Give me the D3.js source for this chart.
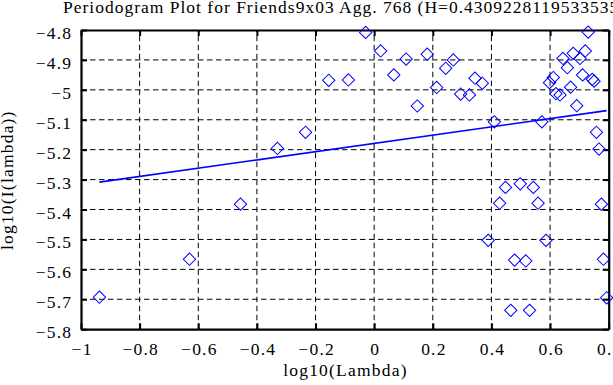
<!DOCTYPE html>
<meta http-equiv="content-type" content="text/html; charset=utf-8" />
<html lang="en">
<head>
<title>Periodogram Plot</title>
<script src="https://d3js.org/d3.v7.min.js"></script>
<style>
body { margin: 0; background: #fff; }
svg { display: block; }
text { font-family: "Liberation Serif", "Times New Roman", serif; font-size: 17.5px; letter-spacing: 1.2px; fill: #000; }
text.title { letter-spacing: 1.0px; }
</style>
</head>
<body>
<div id="plot"></div>
</body>
<script>
var width = 613, height = 385;
var margin = {left: 81, right: 4.3, top: 30, bottom: 55.8};

var title = "Periodogram Plot for Friends9x03 Agg. 768 (H=0.4309228119533535)";
var xLabel = "log10(Lambda)";
var yLabel = "log10(I(lambda))";

// log10 of frequency
var logLambda = [-0.937, -0.630, -0.456, -0.330, -0.234, -0.155, -0.088, -0.029, 0.022, 0.067,
  0.109, 0.147, 0.181, 0.213, 0.244, 0.270, 0.295, 0.325, 0.344, 0.369,
  0.389, 0.410, 0.428, 0.448, 0.466, 0.479, 0.498, 0.517, 0.530, 0.543,
  0.559, 0.572, 0.586, 0.598, 0.611, 0.620, 0.634, 0.644, 0.659, 0.670,
  0.679, 0.691, 0.702, 0.711, 0.720, 0.730, 0.744, 0.750, 0.758, 0.767,
  0.775, 0.782, 0.793];
// log10 of periodogram value
var logI = [-5.693, -5.566, -5.382, -5.196, -5.142, -4.968, -4.967, -4.808, -4.870, -4.950,
  -4.897, -5.054, -4.881, -4.992, -4.928, -4.900, -5.014, -5.017, -4.961, -4.978,
  -5.503, -5.107, -5.379, -5.326, -5.737, -5.569, -5.314, -5.572, -5.737, -5.326,
  -5.379, -5.107, -5.503, -4.976, -4.959, -5.013, -5.017, -4.895, -4.926, -4.991,
  -4.878, -5.053, -4.895, -4.950, -4.870, -4.807, -4.965, -4.971, -5.142, -5.198,
  -5.382, -5.566, -5.695];

// least squares fit drawn in the plot (slope = 1 - 2H)
var fitSlope = 0.13816;
var fitIntercept = -5.179;

var xTicks = [-1, -0.8, -0.6, -0.4, -0.2, 0, 0.2, 0.4, 0.6, 0.8];
var yTicks = [-4.8, -4.9, -5, -5.1, -5.2, -5.3, -5.4, -5.5, -5.6, -5.7, -5.8];

var pts = logLambda.map(function(v, i) { return [v, logI[i]]; });

var svg = d3.select("#plot").append("svg")
  .attr("width", width).attr("height", height);

var x = d3.scaleLinear().domain([-1, 0.8]).range([margin.left, width - margin.right]);
var y = d3.scaleLinear().domain([-5.8, -4.8]).range([height - margin.bottom, margin.top]);

var x0 = x.range()[0], x1 = x.range()[1], y0 = y.range()[0], y1 = y.range()[1];

// dashed grid
svg.append("g").selectAll("line").data(xTicks.slice(1, -1)).enter().append("line")
  .attr("x1", d => x(d)).attr("x2", d => x(d))
  .attr("y1", y0).attr("y2", y1)
  .attr("stroke", "#000").attr("stroke-width", 1).attr("stroke-dasharray", "5.5,3.5");
svg.append("g").selectAll("line").data(yTicks.slice(1, -1)).enter().append("line")
  .attr("x1", x0).attr("x2", x1)
  .attr("y1", d => y(d)).attr("y2", d => y(d))
  .attr("stroke", "#000").attr("stroke-width", 1).attr("stroke-dasharray", "5.5,3.5");

// axes: ticks pointing inward on all four sides
var fmt = function(d) { return d3.format("")(d).replace("-", "\u2212"); };

var axB = svg.append("g").attr("transform", "translate(0," + y0 + ")")
  .call(d3.axisBottom(x).tickValues(xTicks).tickSizeInner(-6).tickSizeOuter(0).tickFormat(fmt));
var axT = svg.append("g").attr("transform", "translate(0," + y1 + ")")
  .call(d3.axisTop(x).tickValues(xTicks).tickSizeInner(-6).tickSizeOuter(0).tickFormat(""));
var axL = svg.append("g").attr("transform", "translate(" + x0 + ",0)")
  .call(d3.axisLeft(y).tickValues(yTicks).tickSizeInner(-6).tickSizeOuter(0).tickPadding(8.8).tickFormat(fmt));
var axR = svg.append("g").attr("transform", "translate(" + x1 + ",0)")
  .call(d3.axisRight(y).tickValues(yTicks).tickSizeInner(-6).tickSizeOuter(0).tickFormat(""));

[axB, axT, axL, axR].forEach(function(a) {
  a.select(".domain").attr("stroke", "#000").attr("stroke-width", 2.2);
  a.selectAll(".tick line").attr("stroke", "#000").attr("stroke-width", 2);
  a.selectAll("text").attr("fill", "#000");
});
axB.selectAll(".tick text").attr("dy", null).attr("y", 26).attr("x", 0.6);
axL.selectAll(".tick text").attr("dy", null).attr("transform", "translate(0,8.5)");

// fitted line over the range of the data
var ext = d3.extent(logLambda);
svg.append("path")
  .datum(ext.map(function(v) { return [v, fitIntercept + fitSlope * v]; }))
  .attr("d", d3.line().x(d => x(d[0])).y(d => y(d[1])))
  .attr("stroke", "#0000ff").attr("stroke-width", 1.6).attr("fill", "none");

// diamonds
var sym = d3.symbol().type(d3.symbolSquare).size(76);
svg.append("g").selectAll("path").data(pts).enter().append("path")
  .attr("d", sym)
  .attr("transform", d => "translate(" + x(d[0]) + "," + y(d[1]) + ") rotate(45)")
  .attr("fill", "none").attr("stroke", "#0000ff").attr("stroke-width", 1);

// labels
svg.append("text").attr("class", "title").attr("x", 63).attr("y", 13).text(title);
svg.append("text").attr("x", (x0 + x1) / 2 + 0.6).attr("y", 376).attr("text-anchor", "middle").text(xLabel);
svg.append("text").attr("transform", "translate(13," + ((y0 + y1) / 2 + 0.6) + ") rotate(-90)")
  .attr("text-anchor", "middle").text(yLabel);
</script>
</html>
